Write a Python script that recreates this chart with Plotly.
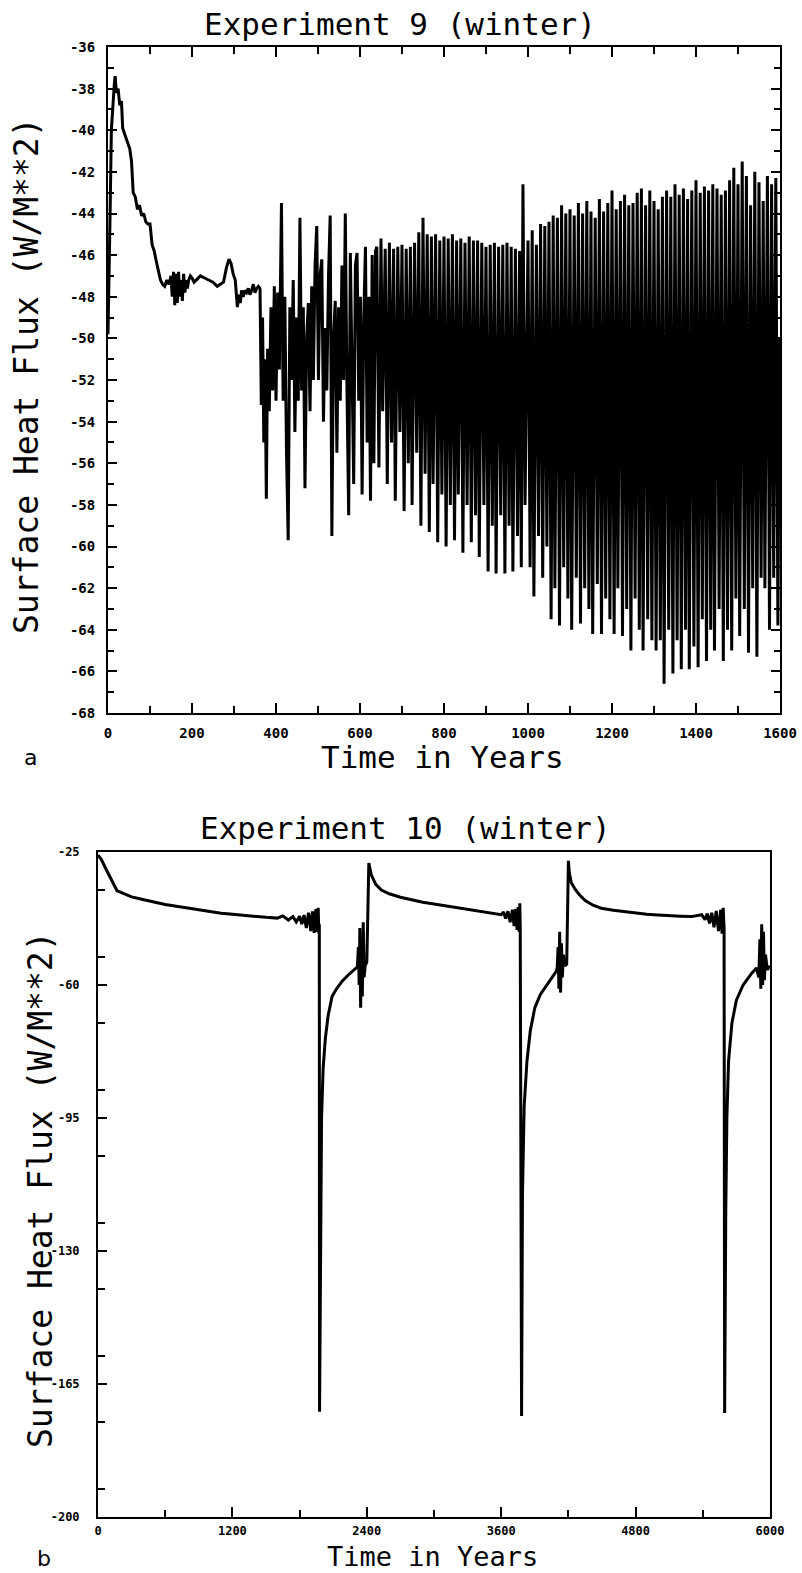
import plotly.graph_objects as go

W, H = 802, 1573

# ---------------- Experiment 9 (winter) ----------------
t9_early = [0, 2, 5, 8, 12, 15, 17, 20, 24, 28, 32, 35, 40, 46, 52, 56, 60, 65, 70, 75,
            80, 85, 90, 95, 100, 105, 110, 115, 120, 125, 130, 135, 140, 145, 150, 153,
            156, 159, 162, 165, 168, 171, 174, 177, 180, 183, 186, 189, 192, 196, 200,
            205, 210, 220, 230, 240, 250, 260, 268, 275, 282, 288, 293, 298, 303, 308,
            312, 315, 318, 322, 326, 330, 334, 338, 342, 346, 350, 354, 358]
v9_early = [-49.8, -48.0, -44.0, -40.0, -38.5, -37.8, -37.4, -38.2, -38.0, -38.8, -38.6,
            -39.9, -40.2, -40.6, -40.9, -41.5, -43.0, -43.2, -43.8, -43.6, -44.1, -44.0,
            -44.4, -44.5, -44.5, -45.5, -45.8, -46.3, -46.8, -47.2, -47.4, -47.5, -47.2,
            -47.4, -47.0, -48.0, -46.8, -48.4, -46.9, -48.3, -46.8, -48.0, -47.2, -48.2,
            -46.9, -47.8, -47.2, -47.6, -47.2, -47.0, -47.1, -47.3, -47.2, -47.0, -47.1,
            -47.2, -47.3, -47.5, -47.4, -47.3, -46.6, -46.2, -46.4, -46.9, -47.2, -48.5,
            -47.9, -48.3, -47.7, -48.0, -47.7, -47.8, -47.6, -47.9, -47.7, -47.4, -47.8,
            -47.6, -47.5]

t9_mid = [362, 365, 368, 371, 374, 377, 380, 384, 388, 392, 396, 400, 404, 408, 413, 417,
          421, 425, 429, 433, 437, 441, 445, 449, 453, 457, 461, 465, 469, 473, 477, 481,
          485, 489, 493, 497, 501, 505, 509, 513, 517, 521, 525, 529, 533, 537, 541, 545,
          549, 553, 557, 561, 565, 569, 573, 577, 581, 585, 589, 593, 597, 601, 605, 609,
          613, 617, 621, 625, 629, 633, 637]
v9_mid = [-47.6, -53.2, -49.0, -55.0, -51.0, -57.7, -50.5, -53.5, -48.5, -52.5, -47.5,
          -53.0, -47.8, -51.5, -43.5, -53.0, -48.0, -55.5, -59.7, -48.5, -52.0, -47.2,
          -54.5, -49.0, -53.0, -44.2, -52.5, -48.5, -57.2, -50.0, -48.3, -53.5, -47.5,
          -52.0, -46.5, -44.6, -52.0, -47.0, -46.2, -54.0, -49.5, -52.5, -47.0, -44.1,
          -59.5, -50.0, -48.2, -55.5, -48.5, -53.0, -46.5, -52.0, -44.0, -52.5, -58.5,
          -45.9, -52.5, -57.0, -46.5, -45.9, -53.0, -48.0, -57.5, -49.0, -45.6, -55.0,
          -48.0, -57.8, -46.0, -56.0, -45.8]

t9_late = [640, 645, 650, 654, 660, 665, 670, 675, 680, 684, 690, 695,
           700, 705, 710, 715, 720, 724, 730, 735, 740, 745, 750, 755,
           760, 765, 770, 774, 780, 785, 790, 795, 800, 805, 810, 815,
           820, 825, 830, 834, 840, 845, 850, 855, 860, 865, 870, 875,
           880, 884, 890, 895, 900, 905, 910, 915, 920, 924, 930, 935,
           940, 945, 950, 955, 960, 964, 970, 975, 980, 984, 988, 993,
           1000, 1005, 1010, 1014, 1020, 1025, 1030, 1035, 1040, 1045, 1050, 1055,
           1060, 1064, 1070, 1075, 1080, 1085, 1090, 1095, 1100, 1104, 1110, 1115,
           1120, 1125, 1130, 1135, 1140, 1145, 1150, 1154, 1160, 1165, 1170, 1175,
           1180, 1185, 1190, 1195, 1200, 1205, 1210, 1214, 1220, 1225, 1230, 1235,
           1240, 1245, 1250, 1255, 1260, 1265, 1270, 1274, 1280, 1285, 1290, 1295,
           1300, 1305, 1310, 1315, 1320, 1324, 1330, 1335, 1340, 1345, 1350, 1355,
           1360, 1365, 1370, 1375, 1380, 1384, 1390, 1395, 1400, 1405, 1410, 1415,
           1420, 1425, 1430, 1435, 1440, 1444, 1450, 1455, 1460, 1465, 1470, 1475,
           1480, 1485, 1490, 1495, 1500, 1504, 1510, 1515, 1520, 1525, 1530, 1535,
           1540, 1545, 1550, 1555, 1560, 1564, 1570, 1575, 1580, 1585, 1590, 1595, 1599]
v9_late = [-45.6, -56.2, -45.2, -53.5, -45.7, -57.0, -45.4, -55.0, -45.7, -57.8, -45.6, -54.5,
           -45.5, -58.3, -45.7, -56.0, -45.6, -58.0, -45.4, -55.5, -44.9, -59.0, -44.2, -56.5,
           -45.0, -59.3, -45.1, -57.0, -45.0, -59.8, -45.3, -57.5, -45.1, -60.0, -45.2, -58.0,
           -45.0, -59.7, -45.3, -57.5, -45.2, -60.3, -45.4, -58.0, -45.1, -59.8, -45.3, -58.5,
           -45.3, -60.5, -45.4, -58.0, -45.6, -61.2, -45.5, -59.0, -45.4, -61.3, -45.6, -58.5,
           -45.5, -61.3, -45.4, -59.0, -45.6, -61.2, -45.7, -59.5, -45.8, -61.0, -42.6, -58.0,
           -45.3, -61.0, -44.8, -62.4, -45.5, -59.5, -44.5, -61.5, -44.6, -60.0, -44.4, -63.5,
           -44.1, -62.0, -44.2, -63.8, -43.6, -61.0, -44.0, -62.5, -43.8, -64.0, -44.1, -61.5,
           -43.5, -63.7, -44.0, -62.0, -43.4, -63.0, -43.9, -64.2, -44.2, -61.8, -43.3, -64.2,
           -43.9, -62.5, -43.5, -63.5, -42.9, -64.2, -43.8, -62.0, -43.4, -64.3, -43.1, -63.0,
           -43.6, -65.0, -43.5, -62.5, -43.0, -64.0, -42.8, -65.0, -43.6, -63.5, -42.9, -64.5,
           -43.4, -65.0, -43.8, -64.5, -43.2, -66.6, -42.9, -64.0, -43.2, -66.1, -42.6, -64.5,
           -43.1, -65.9, -42.8, -64.0, -43.3, -65.9, -42.9, -64.8, -42.4, -65.8, -43.0, -63.5,
           -42.7, -65.5, -42.9, -64.0, -42.6, -65.0, -42.8, -63.0, -43.1, -65.5, -42.9, -64.0,
           -42.4, -65.0, -41.8, -62.5, -42.6, -64.3, -41.5, -63.0, -42.2, -65.1, -43.6, -62.0,
           -42.0, -65.3, -42.5, -61.5, -43.4, -62.0, -42.2, -64.0, -42.6, -61.5, -42.3, -63.8, -50.0]

# ---------------- Experiment 10 (winter) ----------------
t10 = [0, 30, 80, 130, 170, 220, 300, 400, 500, 600, 700, 800, 900, 1000, 1100, 1200,
       1300, 1400, 1500, 1600, 1650, 1700, 1740, 1770, 1800, 1820, 1840, 1860, 1880,
       1900, 1915, 1930, 1945, 1958, 1966, 1972, 1976, 1978,
       1988, 1996, 2010, 2030, 2055, 2090, 2130, 2180, 2230, 2280, 2316, 2325, 2332,
       2338, 2345, 2352, 2360, 2368, 2376, 2385, 2400, 2410, 2418,
       2440, 2480, 2530, 2600, 2700, 2800, 2900, 3000, 3100, 3200, 3300, 3400, 3500,
       3550, 3600, 3620, 3640, 3660, 3680, 3700, 3715, 3730, 3742, 3752, 3760, 3766, 3770,
       3782, 3790, 3805, 3830, 3860, 3900, 3950, 4010, 4060, 4090, 4100, 4108, 4115,
       4122, 4130, 4138, 4146, 4155, 4170, 4185, 4200, 4208,
       4225, 4260, 4300, 4350, 4420, 4494, 4600, 4700, 4800, 4900, 5000, 5100, 5200,
       5300, 5390, 5420, 5440, 5460, 5480, 5500, 5520, 5540, 5560, 5572, 5582, 5590, 5595,
       5605, 5615, 5630, 5660, 5700, 5760, 5837, 5880, 5900, 5910, 5918, 5926, 5934,
       5942, 5950, 5960, 5975, 6000]
v10 = [-25.8, -27.0, -30.0, -33.0, -35.2, -35.8, -36.8, -37.5, -38.2, -38.8, -39.3, -39.8,
       -40.3, -40.7, -41.1, -41.4, -41.7, -42.0, -42.2, -42.4, -41.8, -42.9, -42.0, -43.4,
       -41.9, -44.0, -41.6, -45.0, -41.0, -45.8, -40.6, -46.3, -40.0, -46.0, -39.7, -46.5,
       -44.0, -172.3,
       -120.0, -95.0, -82.0, -74.0, -68.0, -63.0, -61.0, -59.0, -57.5, -56.0, -55.2, -50.0,
       -60.0, -45.0, -66.0, -48.0, -63.0, -43.5, -58.0, -55.0, -54.0, -40.0, -27.9,
       -31.0, -33.5, -35.0, -36.0, -36.9, -37.6, -38.2, -38.7, -39.2, -39.7, -40.2, -40.6,
       -41.1, -41.3, -41.5, -40.8, -42.5, -40.6, -43.5, -40.2, -44.5, -40.0, -45.5, -39.5,
       -46.0, -38.5, -45.0, -173.4,
       -115.0, -92.0, -80.0, -72.0, -66.0, -62.5, -60.0, -58.0, -56.5, -55.5, -50.0, -61.0,
       -46.0, -62.0, -49.0, -58.0, -52.0, -55.0, -54.5, -27.3,
       -30.5, -33.0, -34.8, -36.3, -37.8, -39.0, -39.8, -40.3, -40.7, -41.1, -41.4, -41.6,
       -41.8, -41.9, -42.0, -41.5, -42.8, -41.2, -43.8, -41.0, -44.8, -40.5, -45.8, -40.2,
       -46.5, -39.7, -45.0, -172.6,
       -120.0, -95.0, -80.0, -70.0, -64.0, -60.0, -56.9, -55.5, -58.0, -48.0, -61.0, -44.0,
       -60.0, -46.0, -58.7, -52.0, -56.0, -55.0]

x9_ticks = [0, 200, 400, 600, 800, 1000, 1200, 1400, 1600]
y9_ticks = [-68, -66, -64, -62, -60, -58, -56, -54, -52, -50, -48, -46, -44, -42, -40, -38, -36]
x10_ticks = [0, 1200, 2400, 3600, 4800, 6000]
y10_ticks = [-200, -165, -130, -95, -60, -25]


def px(x):
    return x / W


def py(y):
    return 1 - y / H


fig = go.Figure()
fig.add_trace(go.Scatter(x=t9_early + t9_mid + t9_late, y=v9_early + v9_mid + v9_late,
                         mode="lines", line=dict(color="black", width=3),
                         xaxis="x", yaxis="y", showlegend=False))
fig.add_trace(go.Scatter(x=t10, y=v10, mode="lines", line=dict(color="black", width=3),
                         xaxis="x2", yaxis="y2", showlegend=False))

tickfont9 = dict(family="DejaVu Sans Mono", size=14, color="black", weight="bold")
tickfont10 = dict(family="DejaVu Sans Mono", size=12, color="black", weight="bold")

common = dict(showgrid=False, zeroline=False, showline=True, linecolor="black",
              linewidth=2, ticks="inside", tickcolor="black", tickwidth=2,
              automargin=False)

fig.update_layout(
    template="none",
    width=W, height=H, margin=dict(l=0, r=0, t=0, b=0, pad=0), autosize=False,
    paper_bgcolor="white", plot_bgcolor="white",
    xaxis=dict(domain=[px(108), px(780)], range=[0, 1600], anchor="y",
               tickvals=x9_ticks, ticktext=[str(v) for v in x9_ticks], ticklen=10,
               minor=dict(dtick=100, ticks="inside", ticklen=7, tickcolor="black", tickwidth=2),
               mirror="allticks", tickfont=tickfont9, ticklabelstandoff=6, **common),
    yaxis=dict(domain=[py(713), py(47)], range=[-68, -36], anchor="x",
               tickvals=y9_ticks, ticktext=[str(v) for v in y9_ticks], ticklen=9,
               minor=dict(dtick=1, ticks="inside", ticklen=6, tickcolor="black", tickwidth=2),
               mirror="allticks", tickfont=tickfont9, ticklabelstandoff=8, **common),
    xaxis2=dict(domain=[px(98), px(770)], range=[0, 6000], anchor="y2",
                tickvals=x10_ticks, ticktext=[str(v) for v in x10_ticks], ticklen=10,
                minor=dict(dtick=600, ticks="inside", ticklen=7, tickcolor="black", tickwidth=2),
                mirror=True, tickfont=tickfont10, ticklabelstandoff=2, **common),
    yaxis2=dict(domain=[py(1517), py(852)], range=[-200, -25], anchor="x2",
                tickvals=y10_ticks, ticktext=[str(v) for v in y10_ticks], ticklen=9,
                minor=dict(dtick=17.5, ticks="inside", ticklen=7, tickcolor="black", tickwidth=2),
                mirror=True, tickfont=tickfont10, ticklabelstandoff=14, **common),
)

tfont = dict(family="DejaVu Sans Mono", size=31, color="black")
bfont = dict(family="DejaVu Sans Mono", size=27, color="black")
yfont = dict(family="DejaVu Sans Mono", size=33, color="black")
ann = [
    dict(text="Experiment 9 (winter)", x=px(400), y=py(24), yanchor="middle", font=tfont),
    dict(text="Time in Years", x=px(443), y=py(757), yanchor="middle", font=tfont),
    dict(text="Surface Heat Flux (W/M**2)", x=px(26), y=py(376), yanchor="middle",
         textangle=-90, font=yfont),
    dict(text="Experiment 10 (winter)", x=px(405), y=py(828), yanchor="middle", font=tfont),
    dict(text="Time in Years", x=px(432), y=0, yanchor="bottom", font=bfont),
    dict(text="Surface Heat Flux (W/M**2)", x=px(40), y=py(1190), yanchor="middle",
         textangle=-90, font=yfont),
]
for a in ann:
    fig.add_annotation(xref="paper", yref="paper", showarrow=False,
                       xanchor="center", borderpad=0, **a)
pfont = dict(family="DejaVu Sans", size=22, color="black")
fig.add_annotation(text="a", x=px(30), y=py(758), xref="paper", yref="paper",
                   showarrow=False, font=pfont, xanchor="center", yanchor="middle")
fig.add_annotation(text="b", x=px(44), y=py(1558), xref="paper", yref="paper",
                   showarrow=False, font=pfont, xanchor="center", yanchor="middle")

fig.write_html("out.html")
